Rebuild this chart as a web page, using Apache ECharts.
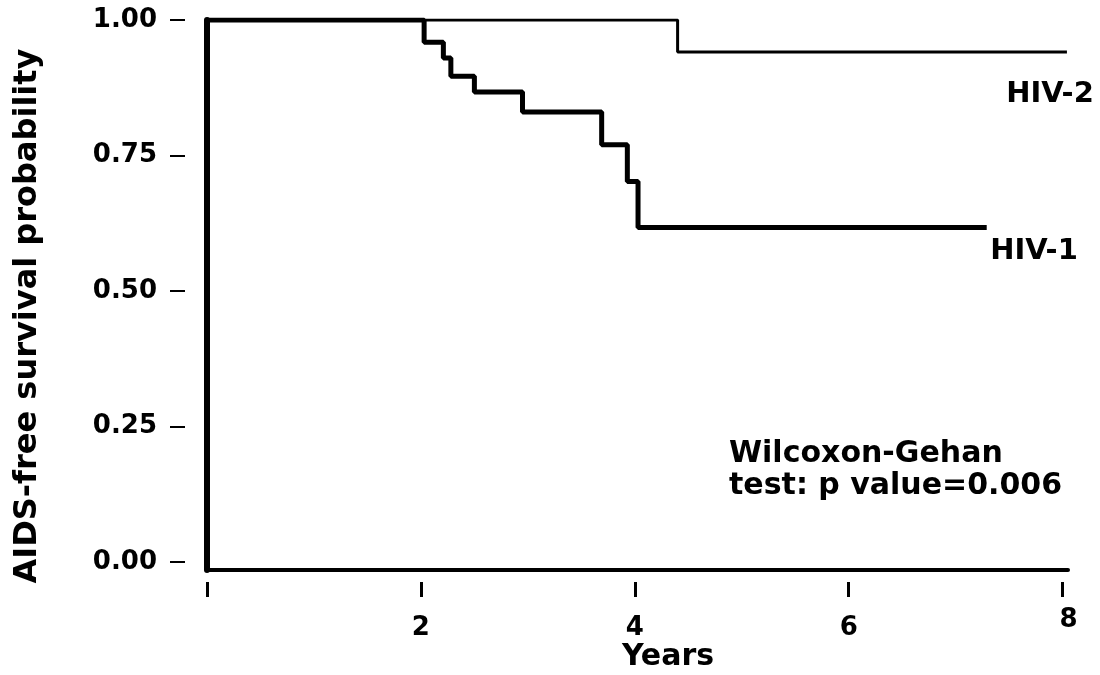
<!DOCTYPE html>
<html>
<head>
<meta charset="utf-8">
<script src="https://cdn.jsdelivr.net/npm/echarts@6/dist/echarts.min.js"></script>
<style>
html,body{margin:0;padding:0;background:#fff;}
#chart{width:1100px;height:675px;}
</style>
</head>
<body>
<div id="chart"></div>
<script>
// Kaplan-Meier step data
const hiv1Years = [0, 2.03, 2.21, 2.28, 2.50, 2.95, 3.69, 3.93, 4.03, 7.29];
const hiv1Surv  = [1.00, 0.959, 0.930, 0.896, 0.867, 0.830, 0.770, 0.702, 0.617, 0.617];
const hiv2Years = [0, 4.40, 8.04];
const hiv2Surv  = [1.00, 0.941, 0.941];
const yTickValues = [0, 0.25, 0.5, 0.75, 1];
const xTickLabels = ['', '2', '4', '6', '8'];
const seriesNames = ['HIV-1', 'HIV-2'];
const yTitle = 'AIDS-free survival probability';
const xTitle = 'Years';
const noteLines = ['Wilcoxon-Gehan', 'test: p value=0.006'];

const FONT = 'DejaVu Sans';
const pairs = (xs, ys) => xs.map((x, i) => [x, ys[i]]);

const chart = echarts.init(document.getElementById('chart'), null, {renderer: 'canvas'});
chart.setOption({
  backgroundColor: '#ffffff',
  animation: false,
  grid: [
    {left: 207, right: 32, top: 20, bottom: 105},
    {left: 207, right: 32, top: 20, bottom: 113}
  ],
  xAxis: [
    {gridIndex: 0, type: 'value', min: 0, max: 8.05,
     axisLine: {show: true, onZero: false, lineStyle: {color: '#000', width: 4}},
     axisTick: {show: false}, axisLabel: {show: false}, splitLine: {show: false}},
    {gridIndex: 0, type: 'value', min: 0, max: 8.05, interval: 2, position: 'bottom', offset: 12,
     axisLine: {show: false, onZero: false},
     axisTick: {show: true, length: 15, lineStyle: {color: '#000', width: 3}},
     axisLabel: {show: true, margin: 33, color: '#000', fontFamily: FONT, fontWeight: 'bold', fontSize: 26,
       formatter: v => {
         const t = xTickLabels[Math.round(v / 2)] || '';
         return t === '8' ? '{hi|' + t + '}' : t;
       },
       rich: {hi: {color: '#000', fontFamily: FONT, fontWeight: 'bold', fontSize: 26, lineHeight: 10, padding: [0, 0, 0, 12]}}},
     splitLine: {show: false}},
    {gridIndex: 1, type: 'value', min: 0, max: 8.05, show: false}
  ],
  yAxis: [
    {gridIndex: 0, type: 'value', min: -0.015, max: 1,
     axisLine: {show: true, onZero: false, lineStyle: {color: '#000', width: 6}},
     axisTick: {show: false}, axisLabel: {show: false}, splitLine: {show: false}},
    {gridIndex: 1, type: 'value', min: 0, max: 1, interval: 0.25, offset: 22,
     axisLine: {show: false, onZero: false},
     axisTick: {show: true, length: 15, lineStyle: {color: '#000', width: 2}},
     axisLabel: {show: true, margin: 28, color: '#000', fontFamily: FONT, fontWeight: 'bold', fontSize: 26,
       formatter: v => yTickValues.includes(v) ? v.toFixed(2) : ''},
     splitLine: {show: false}}
  ],
  series: [
    {name: seriesNames[1], type: 'line', step: 'end', xAxisIndex: 0, yAxisIndex: 0,
     data: pairs(hiv2Years, hiv2Surv), showSymbol: false, symbol: 'none',
     lineStyle: {color: '#000', width: 3}, z: 3},
    {name: seriesNames[0], type: 'line', step: 'end', xAxisIndex: 0, yAxisIndex: 0,
     data: pairs(hiv1Years, hiv1Surv), showSymbol: false, symbol: 'none',
     lineStyle: {color: '#000', width: 5}, z: 4}
  ],
  graphic: [
    {type: 'text', x: 28, y: 316, rotation: Math.PI / 2,
     style: {text: yTitle, fill: '#000', font: 'bold 32px "' + FONT + '"', textAlign: 'center', textVerticalAlign: 'middle'}},
    {type: 'text', x: 668, y: 657,
     style: {text: xTitle, fill: '#000', font: 'bold 30px "' + FONT + '"', textAlign: 'center', textVerticalAlign: 'middle'}},
    {type: 'text', x: 1050, y: 94,
     style: {text: seriesNames[1], fill: '#000', font: 'bold 29px "' + FONT + '"', textAlign: 'center', textVerticalAlign: 'middle'}},
    {type: 'text', x: 1034, y: 251,
     style: {text: seriesNames[0], fill: '#000', font: 'bold 29px "' + FONT + '"', textAlign: 'center', textVerticalAlign: 'middle'}},
    {type: 'text', x: 729, y: 454,
     style: {text: noteLines[0], fill: '#000', font: 'bold 30px "' + FONT + '"', textAlign: 'left', textVerticalAlign: 'middle'}},
    {type: 'text', x: 729, y: 486,
     style: {text: noteLines[1], fill: '#000', font: 'bold 30px "' + FONT + '"', textAlign: 'left', textVerticalAlign: 'middle'}}
  ]
});
</script>
</body>
</html>
